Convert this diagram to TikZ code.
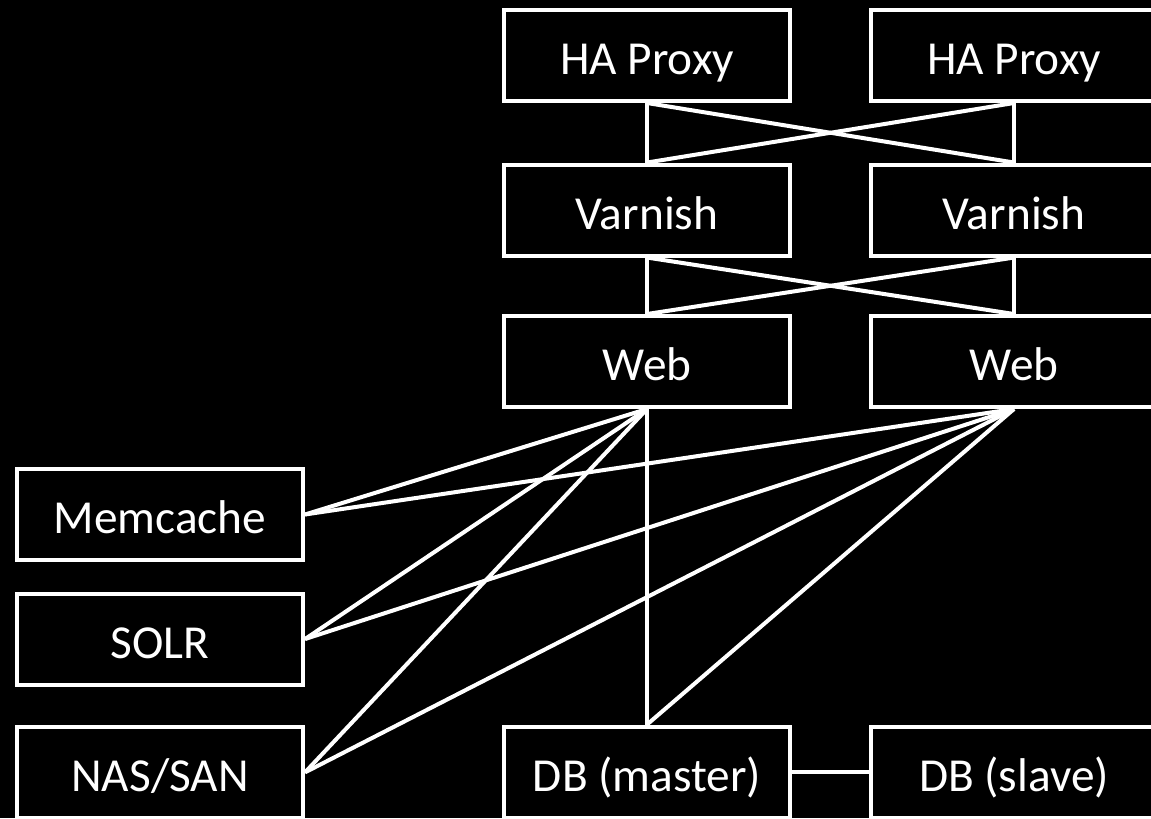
\documentclass[tikz,border=0pt]{standalone}
\usepackage{fontspec}
\setmainfont{Carlito}
\usetikzlibrary{positioning}

\tikzset{
	box/.style={draw=white, fill=black, text=white, line width=3pt,
		minimum width=214.5pt, minimum height=68.25pt,
		text height=29pt, text depth=0pt, font=\fontsize{35.5}{42}\selectfont},
	link/.style={draw=white, line width=3pt}
}

\begin{document}
\begin{tikzpicture}[x=0.75pt,y=-0.75pt,node distance=275.25pt,on grid]
			\clip (0,0) rectangle (1151,818);
			\fill[black] (0,0) rectangle (1151,818);
			\node[box] (ha1) at (647,55.5) {HA Proxy};
			\node[box] (ha2) [right=of ha1] {HA Proxy};
			\node[box] (var1) [below=115.9pt of ha1] {Varnish};
			\node[box] (var2) [right=of var1] {Varnish};
			\node[box] (web1) [below=113.6pt of var1] {Web};
			\node[box] (web2) [right=of web1] {Web};
			\node[box] (dbm) [below=307.9pt of web1] {DB (master)};
			\node[box] (dbs) [right=of dbm] {DB (slave)};
			\node[box] (mem) at (160,514.5) {Memcache};
			\node[box] (solr) [below=93.4pt of mem] {SOLR};
			\node[box] (nas) [below=100pt of solr] {NAS/SAN};
			\path[link]
				(ha1.south) edge (var1.north)
				(ha1.south) edge (var2.north)
				(ha2.south) edge (var1.north)
				(ha2.south) edge (var2.north)
				(var1.south) edge (web1.north)
				(var1.south) edge (web2.north)
				(var2.south) edge (web1.north)
				(var2.south) edge (web2.north)
				(mem.east) edge (web1.south)
				(mem.east) edge (web2.south)
				(solr.east) edge (web1.south)
				(solr.east) edge (web2.south)
				(nas.east) edge (web1.south)
				(nas.east) edge (web2.south)
				(web1.south) edge (dbm.north)
				(web2.south) edge (dbm.north)
				(dbm.east) edge (dbs.west);
		\end{tikzpicture}
\end{document}
